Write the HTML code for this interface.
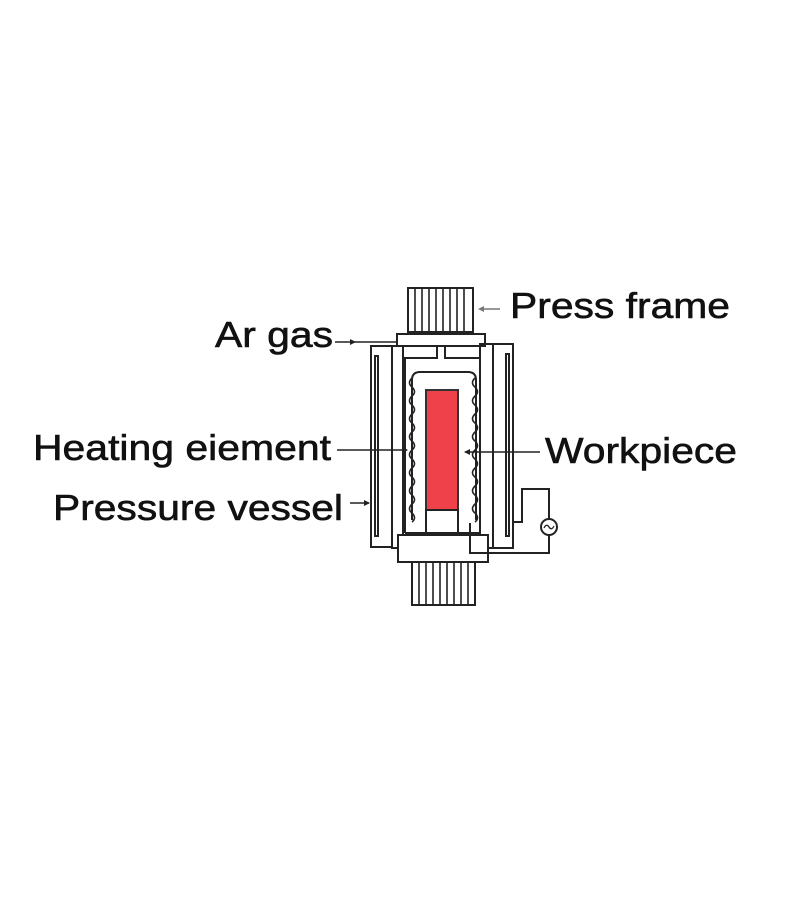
<!DOCTYPE html>
<html><head><style>html,body{margin:0;padding:0;background:#fff}svg{display:block}</style></head>
<body>
<svg width="800" height="900" viewBox="0 0 800 900" xmlns="http://www.w3.org/2000/svg">
<rect width="800" height="900" fill="#fff"/>
<g font-family="Liberation Sans, Arial, sans-serif" font-size="36" fill="#111" stroke="#111" stroke-width="0.6">
<text x="510" y="318" textLength="220" lengthAdjust="spacingAndGlyphs">Press frame</text>
<text x="215" y="347" textLength="118" lengthAdjust="spacingAndGlyphs">Ar gas</text>
<text x="33" y="460" textLength="298" lengthAdjust="spacingAndGlyphs">Heating eiement</text>
<text x="545" y="463" textLength="192" lengthAdjust="spacingAndGlyphs">Workpiece</text>
<text x="53" y="520" textLength="290" lengthAdjust="spacingAndGlyphs">Pressure vessel</text>
</g>
<g stroke="#222" stroke-width="2" fill="none">
<rect x="408" y="288" width="65" height="44" fill="#fff"/>
<g stroke-width="1.6">
<path d="M415 288V332M422 288V332M429 288V332M436 288V332M443 288V332M450 288V332M457 288V332M464 288V332"/>
</g>
<rect x="412" y="562" width="63" height="43" fill="#fff"/>
<g stroke-width="1.6">
<path d="M419 562V605M426 562V605M433 562V605M440 562V605M447 562V605M454 562V605M461 562V605M468 562V605"/>
</g>
<rect x="397" y="334" width="88" height="12"/>
<rect x="371" y="346" width="21" height="201"/>
<rect x="375" y="356" width="3" height="180"/>
<rect x="392" y="346" width="11" height="202"/>
<rect x="480" y="344" width="13" height="204"/>
<rect x="493" y="344" width="20" height="204"/>
<rect x="506" y="354" width="3" height="182"/>
<path d="M405 533V358H437V346M480 358H445V346"/>
<path d="M405 533h75"/>
<path d="M412 520V380 q0-8 8-8h48q8 0 8 8V520"/>
<path d="M412 378 q-5 5 0 9 q5 5 0 9 q-5 5 0 9 q5 5 0 9 q-5 5 0 9 q5 5 0 9 q-5 5 0 9 q5 5 0 9 q-5 5 0 9 q5 5 0 9 q-5 5 0 9 q5 5 0 9 q-5 5 0 9 q5 5 0 9 q-5 5 0 9 q5 5 0 9" stroke-width="1.6"/>
<path d="M475 378 q-5 5 0 9 q5 5 0 9 q-5 5 0 9 q5 5 0 9 q-5 5 0 9 q5 5 0 9 q-5 5 0 9 q5 5 0 9 q-5 5 0 9 q5 5 0 9 q-5 5 0 9 q5 5 0 9 q-5 5 0 9 q5 5 0 9 q-5 5 0 9 q5 5 0 9" stroke-width="1.6"/>
<rect x="426" y="390" width="32" height="120" fill="#ee4149" stroke="#333"/>
<rect x="426" y="510" width="32" height="23" fill="#fff"/>
<rect x="398" y="535" width="90" height="27" fill="#fff"/>
<path d="M513 522H522V489H549V519M549 535V553H470V523"/>
<circle cx="549" cy="527" r="8"/>
<path d="M544 528q2.5-5 5-1t5-1" stroke-width="1.3"/>
<path d="M335 342H397V336" stroke-width="1.6"/>
<path d="M337 450H407" stroke-width="1.6"/>
<path d="M465 452H540" stroke-width="1.6"/>
<path d="M350 503H369" stroke-width="1.6"/>
<path d="M480 309H500" stroke="#777" stroke-width="1.6"/>
</g>
<g fill="#222">
<path d="M350 339l6 3l-6 3z"/>
<path d="M402 447l6 3l-6 3z"/>
<path d="M470 449l-6 3l6 3z"/>
<path d="M364 500l6 3l-6 3z"/>
<path d="M478 309l6 -3v6z" fill="#777"/>
</g>
</svg>
</body></html>
